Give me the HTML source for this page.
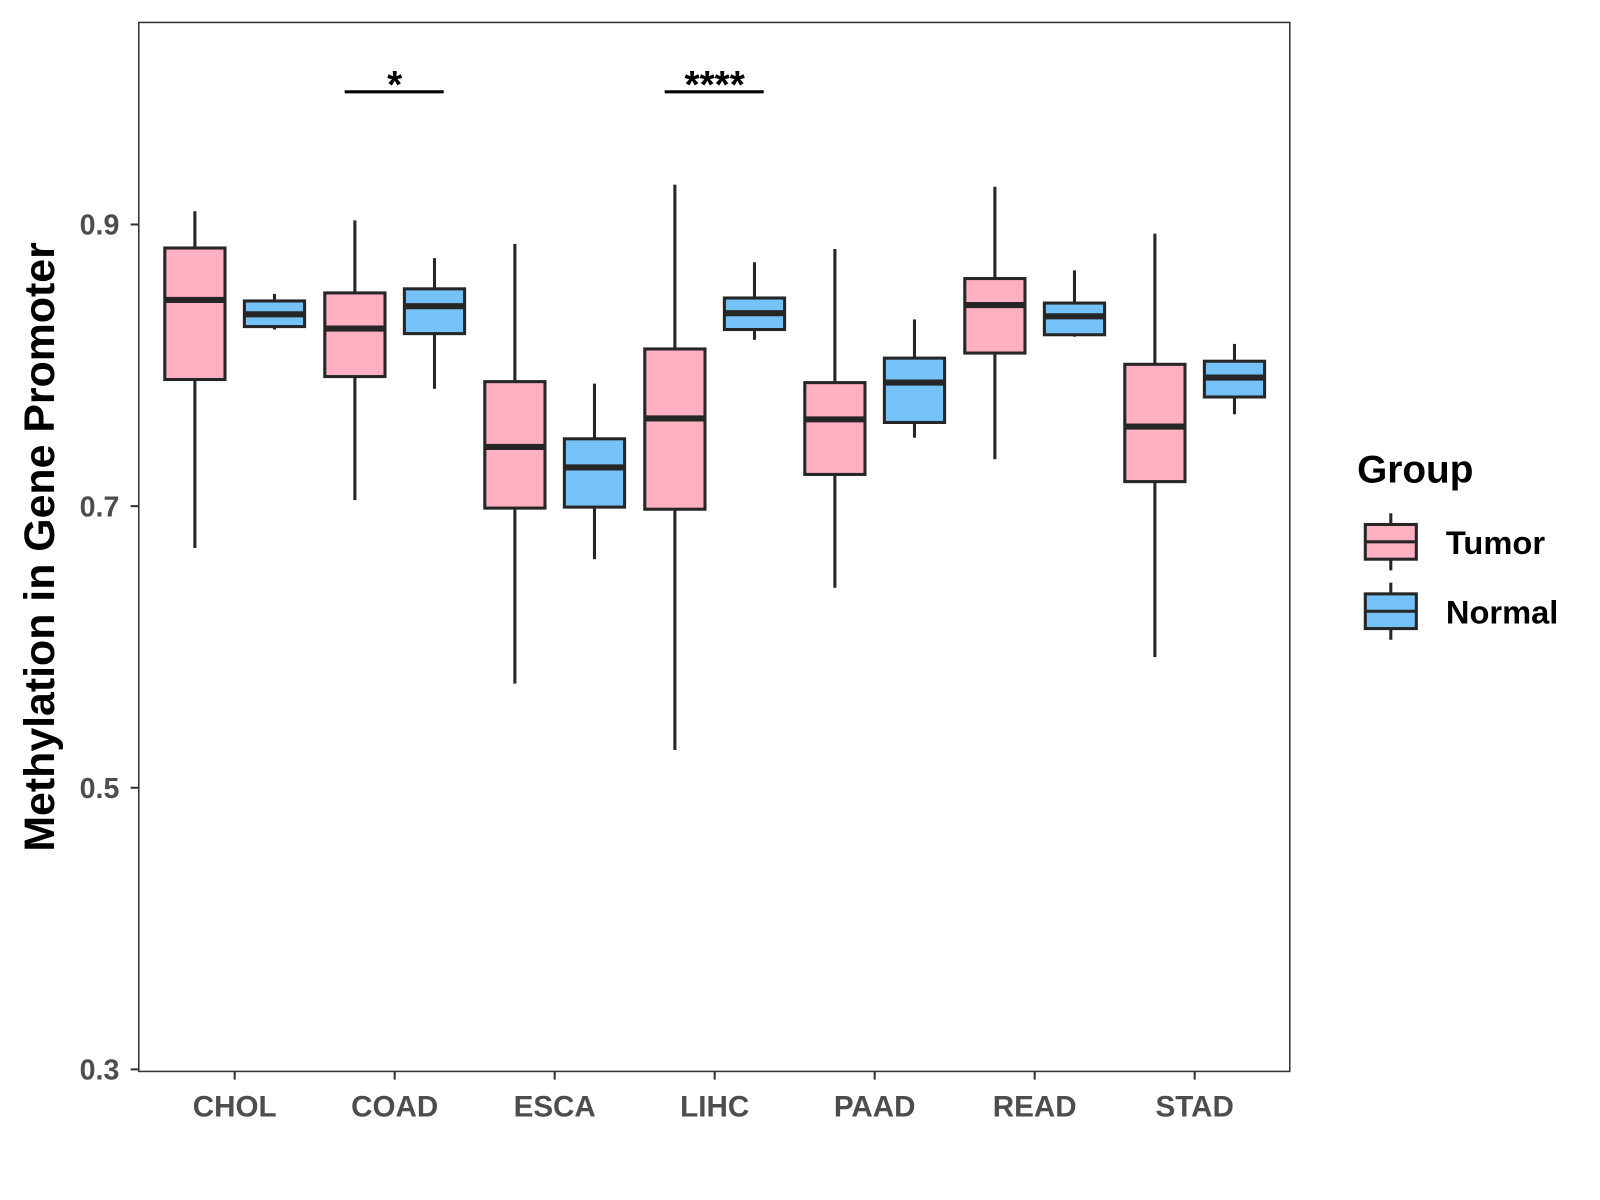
<!DOCTYPE html>
<html><head><meta charset="utf-8"><style>
html,body{margin:0;padding:0;background:#fff;}
svg{display:block;font-family:"Liberation Sans",Arial,sans-serif;}
</style></head><body>
<svg id="chart" width="1600" height="1200" viewBox="0 0 1600 1200"><g id="root" transform="scale(1.0204)"></g></svg>
<script>
const categories = ["CHOL","COAD","ESCA","LIHC","PAAD","READ","STAD"];
// [whiskerLow, q1, median, q3, whiskerHigh]
const tumorStats = [
  [0.6703,0.7899,0.8464,0.8833,0.9094],
  [0.7043,0.7920,0.8261,0.8514,0.9029],
  [0.5739,0.6986,0.7420,0.7884,0.8862],
  [0.5268,0.6978,0.7623,0.8116,0.9283],
  [0.6420,0.7225,0.7616,0.7877,0.8826],
  [0.7333,0.8087,0.8428,0.8616,0.9268],
  [0.5928,0.7174,0.7565,0.8007,0.8935]
];
const normalStats = [
  [0.8254,0.8275,0.8362,0.8457,0.8507],
  [0.7833,0.8225,0.8420,0.8543,0.8761],
  [0.6623,0.6993,0.7275,0.7478,0.7870],
  [0.8181,0.8254,0.8370,0.8478,0.8732],
  [0.7486,0.7594,0.7877,0.8051,0.8326],
  [0.8203,0.8217,0.8348,0.8442,0.8674],
  [0.7652,0.7775,0.7913,0.8029,0.8152]
];
const yTicks = [0.3,0.5,0.7,0.9];
const yTickLabels = ["0.3","0.5","0.7","0.9"];
const sigCategories = ["COAD","LIHC"];
const sigLabels = ["*","****"];

const NS="http://www.w3.org/2000/svg";
const svg=document.getElementById('root');
const P={l:136,r:1264,t:22,b:1050};
const y=v=>220+(0.9-v)*1380;
const x0=230;
const x=i=>x0+i*156.8;
const TUM="#FFB0C2", NOR="#75C2F8", LINE="#262626";
function el(tag,attrs,parent){const e=document.createElementNS(NS,tag);for(const k in attrs)e.setAttribute(k,attrs[k]);(parent||svg).appendChild(e);return e;}

const panel=el('rect',{x:P.l,y:P.t,width:P.r-P.l,height:P.b-P.t,fill:'#fff',stroke:'#333','stroke-width':1.5});



yTicks.forEach((t,i)=>{
  const g=el('g',{});
  
  
  el('line',{x1:128,x2:P.l,y1:y(t),y2:y(t),stroke:'#333','stroke-width':2},g);
  const tx=el('text',{x:117,y:y(t)+10,'text-anchor':'end','font-size':28,'font-weight':'bold',fill:'#4d4d4d'},g);
  tx.textContent=yTickLabels[i];
});
categories.forEach((c,i)=>{
  const g=el('g',{});
  
  
  el('line',{x1:x(i),x2:x(i),y1:P.b,y2:P.b+8,stroke:'#333','stroke-width':2},g);
  const tx=el('text',{x:x(i),y:1094,'text-anchor':'middle','font-size':29,'font-weight':'bold',fill:'#4d4d4d'},g);
  tx.textContent=c;
});

const yt=el('text',{x:0,y:0,transform:'translate(53,536) rotate(-90)','text-anchor':'middle','font-size':42,'font-weight':'bold',fill:'#000'});
yt.textContent="Methylation in Gene Promoter";



function box(cx,s,fill,name){
  const g=el('g',{});
  
  
  const w=59;
  el('line',{x1:cx,x2:cx,y1:y(s[4]),y2:y(s[3]),stroke:LINE,'stroke-width':3},g);
  el('line',{x1:cx,x2:cx,y1:y(s[1]),y2:y(s[0]),stroke:LINE,'stroke-width':3},g);
  el('rect',{x:cx-w/2,y:y(s[3]),width:w,height:y(s[1])-y(s[3]),fill:fill,stroke:LINE,'stroke-width':3},g);
  el('line',{x1:cx-w/2,x2:cx+w/2,y1:y(s[2]),y2:y(s[2]),stroke:LINE,'stroke-width':6},g);
}
categories.forEach((c,i)=>{
  box(x(i)-39,tumorStats[i],TUM,'box-tumor-'+c.toLowerCase());
  box(x(i)+39,normalStats[i],NOR,'box-normal-'+c.toLowerCase());
});

sigCategories.forEach((c,j)=>{
  const i=categories.indexOf(c);
  const g=el('g',{});
  
  
  el('line',{x1:x(i)-49,x2:x(i)+48,y1:90,y2:90,stroke:'#000','stroke-width':3},g);
  const t=el('text',{x:x(i),y:96,'text-anchor':'middle','font-size':38,'font-weight':'bold',fill:'#000'},g);
  t.textContent=sigLabels[j];
});

const lg=el('g',{});


const lt=el('text',{x:1330,y:473,'font-size':38,'font-weight':'bold',fill:'#000'},lg);
lt.textContent="Group";
[["Tumor",TUM,514],["Normal",NOR,582]].forEach(([n,f,top])=>{
  const g=el('g',{},lg);
  
  
  el('line',{x1:1363,x2:1363,y1:top-11,y2:top+45,stroke:LINE,'stroke-width':3},g);
  el('rect',{x:1338,y:top,width:50,height:34,fill:f,stroke:LINE,'stroke-width':3},g);
  el('line',{x1:1338,x2:1388,y1:top+17,y2:top+17,stroke:LINE,'stroke-width':3},g);
  const t=el('text',{x:1417,y:top+29,'font-size':32,'font-weight':'bold',fill:'#000'},g);
  t.textContent=n;
});
</script>
</body></html>
